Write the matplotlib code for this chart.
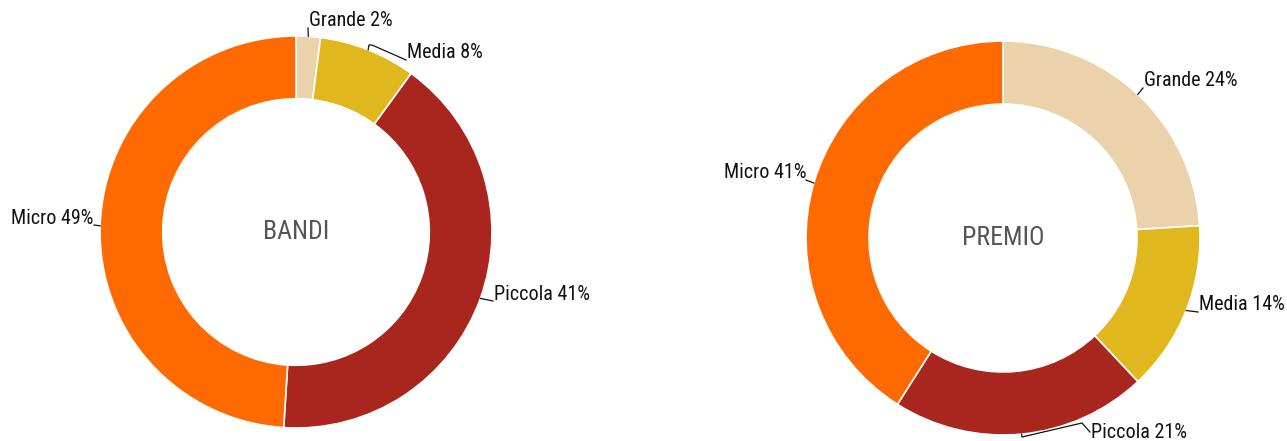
import matplotlib
matplotlib.use("Agg")
import matplotlib.pyplot as plt
import numpy as np

# ---- data ----
categories = ["Grande", "Media", "Piccola", "Micro"]
bandi_values = [2, 8, 41, 49]
premio_values = [24, 14, 21, 41]
titles = ["BANDI", "PREMIO"]
colors = ["#EBD2AB", "#E0B81E", "#A8261E", "#FF6A00"]

FONT = ["Roboto Condensed", "DejaVu Sans"]
W, H = 1287, 441

fig = plt.figure(figsize=(W / 100, H / 100), dpi=100)
ax = fig.add_axes([0, 0, 1, 1])

def Y(y_img):
    return H - y_img

# layout: centers (image px), radius, label leader paths and anchors
charts = [
    dict(values=bandi_values, title=titles[0], center=(296, 232), r=196,
         labels=[
             ([(308, 28)], (309, 20), "left"),
             ([(369, 45), (372, 45), (406, 60)], (407, 53), "left"),
             ([(493, 301)], (494, 295), "left"),
             ([(94, 225)], (93, 219), "right"),
         ]),
    dict(values=premio_values, title=titles[1], center=(1003, 238), r=197,
         labels=[
             ([(1143, 88)], (1144, 80), "left"),
             ([(1198, 312)], (1199, 305), "left"),
             ([(1022, 437), (1082, 423), (1090, 432)], (1091, 432), "left"),
             ([(806, 180)], (806, 173), "right"),
         ]),
]

for ch in charts:
    cx, cy = ch["center"]
    r = ch["r"]
    wedges, _ = ax.pie(ch["values"], colors=colors, startangle=90, counterclock=False,
                       center=(cx, Y(cy)), radius=r,
                       wedgeprops=dict(width=r * 0.32, edgecolor="white", linewidth=1.2))
    ax.text(cx, Y(cy), ch["title"], ha="center", va="center", fontsize=18.5,
            color="#555555", family=FONT, fontweight=400)
    for w, cat, val, (pts, tpos, ha) in zip(wedges, categories, ch["values"], ch["labels"]):
        mid = np.deg2rad((w.theta1 + w.theta2) / 2)
        sx = cx + r * np.cos(mid)
        sy = Y(cy) + r * np.sin(mid)
        xs = [sx] + [p[0] for p in pts]
        ys = [sy] + [Y(p[1]) for p in pts]
        ax.plot(xs, ys, color="#111111", linewidth=0.9)
        ax.text(tpos[0], Y(tpos[1]), f"{cat} {val}%", ha=ha, va="center",
                fontsize=14.5, color="#111111", family=FONT)

ax.set_xlim(0, W)
ax.set_ylim(0, H)
ax.set_aspect("equal")
ax.axis("off")
fig.savefig("out.png", dpi=100)
